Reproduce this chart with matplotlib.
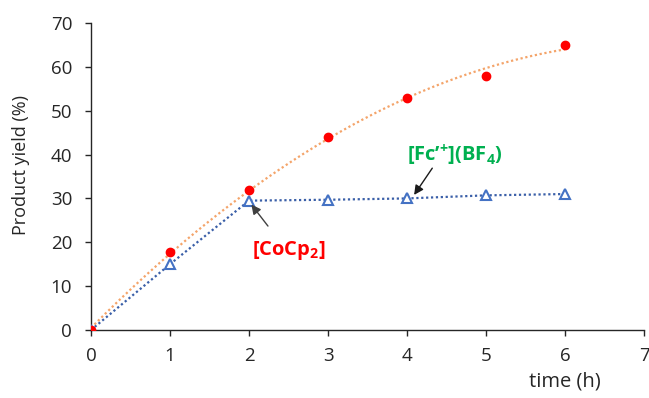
import numpy as np
import matplotlib
matplotlib.use("Agg")
import matplotlib.pyplot as plt

plt.rcParams['font.family'] = ['Open Sans', 'DejaVu Sans']
plt.rcParams['mathtext.fontset'] = 'custom'
plt.rcParams['mathtext.rm'] = 'Open Sans'
plt.rcParams['mathtext.bf'] = 'Open Sans:bold'

time_h = [0, 1, 2, 3, 4, 5, 6]
cocp2_yield = [0, 17.8, 32.0, 44.0, 53.0, 58.0, 65.0]
fc_yield = [0, 15.0, 29.5, 29.7, 30.0, 30.7, 31.0]
x_ticks = [0, 1, 2, 3, 4, 5, 6, 7]
y_ticks = [0, 10, 20, 30, 40, 50, 60, 70]

fig = plt.figure(figsize=(6.49, 3.98), dpi=100)
ax = fig.add_axes([91/649, 1-330/398, (644-91)/649, (330-23)/398])

# polynomial trendline for CoCp2
coef = np.polyfit(time_h, cocp2_yield, 2)
xs = np.linspace(0, 6, 200)
ax.plot(xs, np.polyval(coef, xs), linestyle=(0, (1, 1.2)), color='#F4A46A', lw=1.6, zorder=2)
ax.plot(time_h, fc_yield, linestyle=(0, (1, 1.2)), color='#3A5FA8', lw=1.6, zorder=2)

ax.plot(time_h, fc_yield, linestyle='none', marker='^', markersize=7,
        markerfacecolor='white', markeredgecolor='#4472C4', markeredgewidth=1.5, zorder=3)
ax.plot(time_h, cocp2_yield, linestyle='none', marker='o', markersize=6,
        color='#FF0000', zorder=4)

ax.set_xlim(0, 7)
ax.set_ylim(0, 70)
ax.set_xticks(x_ticks)
ax.set_yticks(y_ticks)
ax.tick_params(direction='out', length=4.5, width=1, labelsize=13.5, colors='#262626')
ax.tick_params(axis='y', pad=9)
ax.tick_params(axis='x', pad=8)
for s in ['top', 'right']:
    ax.spines[s].set_visible(False)
for s in ['left', 'bottom']:
    ax.spines[s].set_linewidth(1.0)
    ax.spines[s].set_color('#262626')

fig.text(565/649, 1-382/398, 'time (h)', fontsize=14.5, ha='center', va='center', color='#262626')
fig.text(21/649, 1-165/398, 'Product yield (%)', fontsize=13, rotation=90,
         ha='center', va='center', color='#262626')

ax.text(2.51, 18.2, r'[CoCp$_\mathbf{2}$]', fontsize=14.5, fontweight='bold',
        color='#FF0000', ha='center', va='center')
ax.annotate('', xy=(2.03, 28.6), xytext=(2.24, 23.7),
            arrowprops=dict(arrowstyle='-|>', color='#404040', lw=1.0,
                            shrinkA=0, shrinkB=0, mutation_scale=14))
ax.text(4.61, 39.9, r"[Fc’$^{\mathbf{+}}$](BF$_\mathbf{4}$)", fontsize=14.5, fontweight='bold',
        color='#00B050', ha='center', va='center')
ax.annotate('', xy=(4.09, 30.8), xytext=(4.32, 36.9),
            arrowprops=dict(arrowstyle='-|>', color='#1a1a1a', lw=1.0,
                            shrinkA=0, shrinkB=0, mutation_scale=14))

fig.savefig('out.png', dpi=100)
